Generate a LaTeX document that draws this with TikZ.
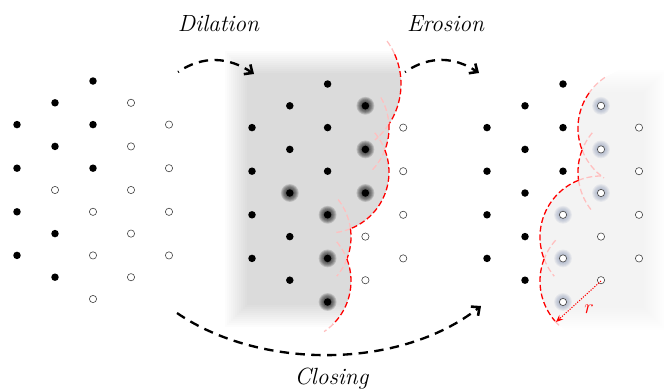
\documentclass[tikz,border=0pt]{standalone}
\usetikzlibrary{arrows.meta}
\definecolor{glowblue}{RGB}{120,135,170}
\begin{document}
\begin{tikzpicture}[x=0.03cm, y=-0.03cm,
  soliddot/.style={fill=black},
  hollowdot/.style={draw=black!75, line width=0.5pt, fill=white},
  darkglow/.style={fill=black, fill opacity=0.15},
  blueglow/.style={fill=glowblue, fill opacity=0.11},
  redarc/.style={draw=red, line width=1.1pt, dash pattern=on 5pt off 2.5pt},
  fadedarc/.style={draw=red!25, line width=1.1pt, dash pattern=on 5pt off 2.5pt},
  opflow/.style={line width=2pt, dash pattern=on 8pt off 5.5pt,
    -{Straight Barb[length=5.5pt,width=10pt,line width=2.2pt]}},
  optext/.style={font=\fontsize{20}{24}\selectfont\itshape, anchor=base},
]
\useasboundingbox (0,0) rectangle (664,389);

% ---------- shaded dilated region (middle) ----------
\begin{scope}
  \clip (200,0)
    -- plot[domain=-45:33.5,samples=30,variable=\t] ({328+73*cos(\t)},{84+73*sin(\t)})
    -- plot[domain=-3.5:21.1,samples=10,variable=\t] ({328+61*cos(\t)},{128+61*sin(\t)})
    -- plot[domain=-21.1:68.4,samples=30,variable=\t] ({328+61*cos(\t)},{172+61*sin(\t)})
    -- plot[domain=-7.8:21.1,samples=10,variable=\t] ({290+61*cos(\t)},{237+61*sin(\t)})
    -- plot[domain=-21.1:90,samples=30,variable=\t] ({290+61*cos(\t)},{281+61*sin(\t)})
    -- (200,389) -- cycle;
  \foreach \k in {0,...,11}
    \fill[black, fill opacity=0.0134] (225+2*\k, 51+2*\k) rectangle (440, 327-2*\k);
\end{scope}

% ---------- shaded removed region (right) ----------
\begin{scope}
  \clip (664,0)
    -- plot[domain=250:158.9,samples=30,variable=\t] ({639+61*cos(\t)},{128+61*sin(\t)})
    -- plot[domain=201.1:172.2,samples=10,variable=\t] ({639+61*cos(\t)},{172+61*sin(\t)})
    -- plot[domain=248.4:158.9,samples=30,variable=\t] ({601+61*cos(\t)},{237+61*sin(\t)})
    -- plot[domain=201.1:100,samples=30,variable=\t] ({601+61*cos(\t)},{281+61*sin(\t)})
    -- (664,389) -- cycle;
  \foreach \k in {0,...,11}
    \fill[black, fill opacity=0.0051] (520, 70+2*\k) rectangle (666-2*\k, 330-2*\k);
\end{scope}

% ---------- boundary arcs: centre x / centre y / radius / faint start / start / end / faint end ----------
\foreach \cx/\cy/\rr/\fa/\a/\b/\fb in {
    328/84/73/-36/-24/33.5/50,
    328/128/61/-30/-3.5/21.1/45,
    328/172/61/-40/-21.1/68.4/85,
    290/237/61/-38/-7.8/21.1/40,
    290/281/61/-40/-21.1/45/56,
    639/128/61/236/215/158.9/125,
    639/172/61/220/201.1/172.2/142,
    601/237/61/270/248.4/158.9/140,
    601/281/61/222/201.1/139/132}{
  \draw[fadedarc] plot[domain=\fa:\a,samples=12,variable=\t] ({\cx+\rr*cos(\t)},{\cy+\rr*sin(\t)});
  \draw[fadedarc] plot[domain=\b:\fb,samples=12,variable=\t] ({\cx+\rr*cos(\t)},{\cy+\rr*sin(\t)});
  \draw[redarc] plot[domain=\a:\b,samples=30,variable=\t] ({\cx+\rr*cos(\t)},{\cy+\rr*sin(\t)});
}

% ---------- left lattice ----------
\foreach \c/\k in {0/2,0/4,0/6,0/8,1/1,1/3,1/7,1/9,2/0,2/2,2/4}
  \fill[soliddot] ({17+38*\c},{81+21.8*\k}) circle (3.2pt);
\foreach \c/\k in {1/5,2/6,2/8,2/10,3/1,3/3,3/5,3/7,3/9,4/2,4/4,4/6,4/8}
  \draw[hollowdot] ({17+38*\c},{81+21.8*\k}) circle (3.1pt);

% ---------- middle lattice (dilation) ----------
\foreach \c/\k in {1/5,2/6,2/8,2/10,3/1,3/3,3/5}
  \foreach \g in {3.6,4.4,5.2,6.0,6.8,7.6}
    \fill[darkglow] ({252+37.8*\c},{84+21.8*\k}) circle (\g pt);
\foreach \c/\k in {0/2,0/4,0/6,0/8,1/1,1/3,1/5,1/7,1/9,2/0,2/2,2/4,2/6,2/8,2/10,3/1,3/3,3/5}
  \fill[soliddot] ({252+37.8*\c},{84+21.8*\k}) circle (3.2pt);
\foreach \c/\k in {3/7,3/9,4/2,4/4,4/6,4/8}
  \draw[hollowdot] ({252+37.8*\c},{84+21.8*\k}) circle (3.1pt);

% ---------- right lattice (closing) ----------
\foreach \c/\k in {2/6,2/8,2/10,3/1,3/3,3/5}
  \foreach \g in {3.6,4.4,5.2,6.0,6.8,7.6}
    \fill[blueglow] ({487+38*\c},{84+21.8*\k}) circle (\g pt);
\foreach \c/\k in {0/2,0/4,0/6,0/8,1/1,1/3,1/5,1/7,1/9,2/0,2/2,2/4}
  \fill[soliddot] ({487+38*\c},{84+21.8*\k}) circle (3.2pt);
\foreach \c/\k in {2/6,2/8,2/10,3/1,3/3,3/5,3/7,3/9,4/2,4/4,4/6,4/8}
  \draw[hollowdot] ({487+38*\c},{84+21.8*\k}) circle (3.1pt);

% ---------- radius marker ----------
\coordinate (rc) at (601,281.0);
\coordinate (rtip) at (556,322);
\draw[red, line width=0.9pt, dash pattern=on 1pt off 1.2pt, -{Stealth[length=6pt,width=5pt]}] (rc) -- (rtip);
\node[text=red, font=\fontsize{17}{19}\selectfont] (rlab) at (589,309) {$r$};

% ---------- operation arrows ----------
\coordinate (dilStart) at (178,72);
\coordinate (dilEnd) at (254,74);
\coordinate (eroStart) at (405,72);
\coordinate (eroEnd) at (479,73);
\coordinate (cloStart) at (177,313);
\coordinate (cloEnd) at (481,306);
\draw[opflow, dash phase=7.2pt] (dilStart) .. controls (203,55) and (229,57) .. (dilEnd);
\draw[opflow, dash phase=7.2pt] (eroStart) .. controls (430,55) and (455,57) .. (eroEnd);
\draw[opflow] (cloStart) .. controls (260,370) and (400,370) .. (cloEnd);

\node[optext] (dil) at (218.5,31) {Dilation};
\node[optext] (ero) at (445.5,31) {Erosion};
\node[optext] (clo) at (331.5,384) {Closing};
\end{tikzpicture}
\end{document}
